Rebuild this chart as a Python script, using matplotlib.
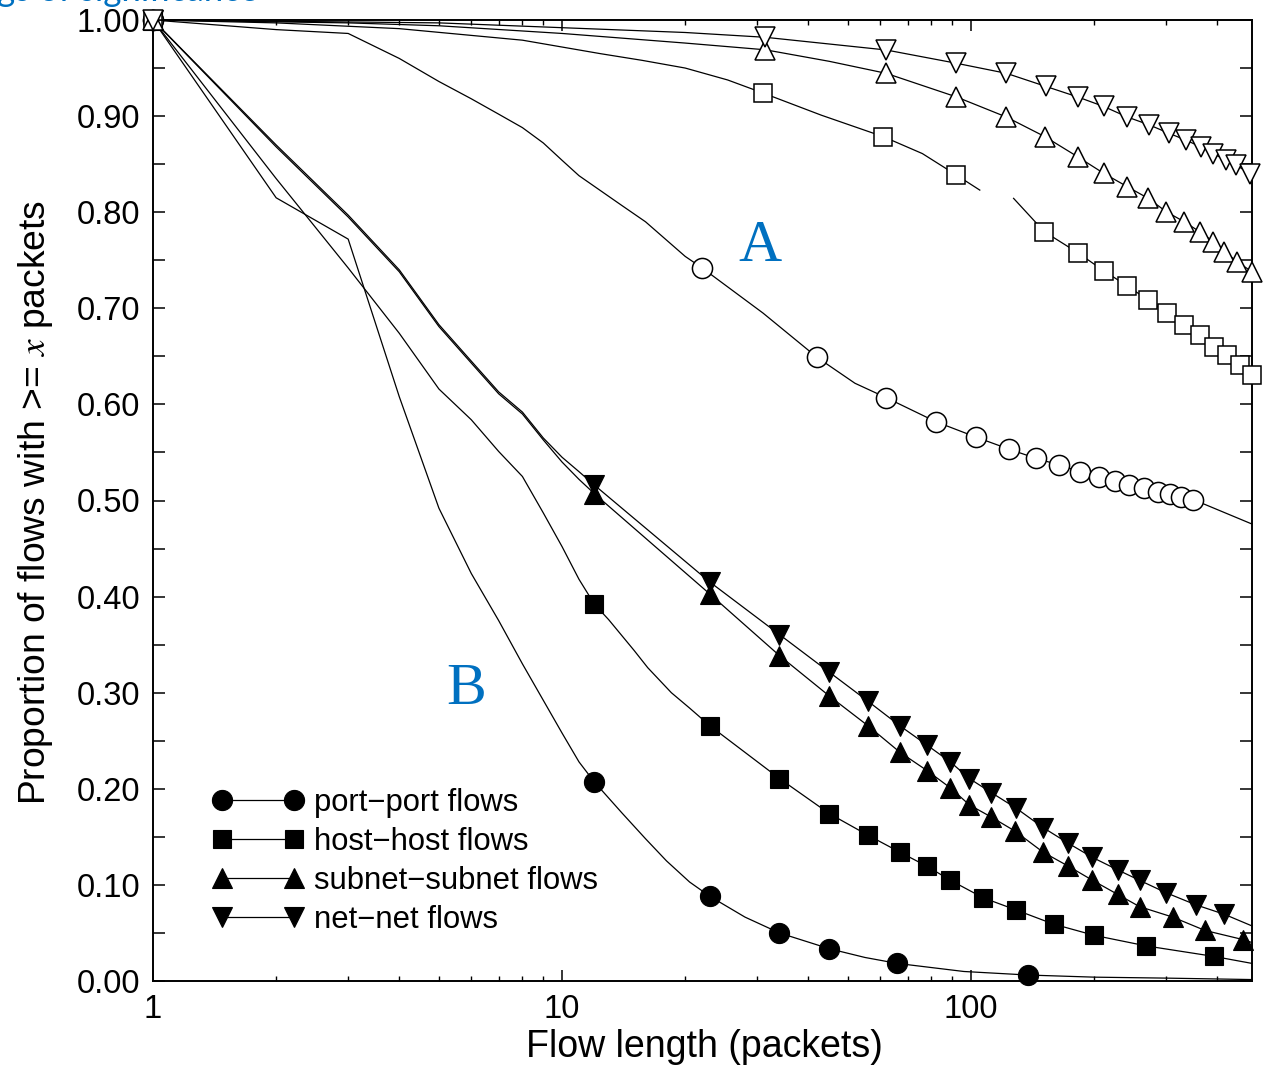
import numpy as np
import matplotlib
matplotlib.use("Agg")
import matplotlib.pyplot as plt
from matplotlib.ticker import FixedLocator, NullFormatter, FixedFormatter, MultipleLocator, FuncFormatter

plt.rcParams['font.family'] = ['Liberation Sans', 'DejaVu Sans']
plt.rcParams['mathtext.fontset'] = 'stix'

# ---------------- data ----------------
# Group B (filled markers)
pp_b_x = [1, 2, 3, 4, 5, 6, 7, 8, 9, 10, 11, 12, 14, 16, 18, 20.5, 23, 28, 34, 45, 55, 66, 96, 138, 200, 300, 486]
pp_b_y = [1.0, 0.815, 0.772, 0.608, 0.492, 0.424, 0.375, 0.330, 0.292, 0.258, 0.228, 0.207,
          0.175, 0.148, 0.125, 0.103, 0.088, 0.0665, 0.050, 0.0336, 0.0245, 0.0183, 0.0099, 0.0062,
          0.004, 0.003, 0.0015]
pp_b_marks = [1, 12, 23, 34, 45, 66, 138]

hh_b_x = [1, 2, 3, 4, 5, 6, 7, 8, 9, 10, 11, 12, 13, 15, 16.2, 18.5, 20.5, 23, 34, 45, 56, 67, 78, 89,
          107, 129, 159, 200, 268, 392, 486]
hh_b_y = [1.0, 0.835, 0.742, 0.674, 0.616, 0.584, 0.551, 0.525, 0.487, 0.452, 0.418, 0.392,
          0.376, 0.344, 0.326, 0.300, 0.284, 0.2655, 0.2107, 0.1742, 0.1516, 0.134, 0.1194, 0.1048,
          0.0866, 0.0738, 0.0592, 0.0475, 0.0365, 0.0256, 0.0183]
hh_b_marks = [1, 12, 23, 34, 45, 56, 67, 78, 89, 107, 129, 159, 200, 268, 392]

sn_b_x = [1, 2, 3, 4, 5, 6, 7, 8, 9, 10, 11, 12, 23, 34, 45, 56, 67, 78, 89, 99, 112, 128, 150,
          173, 198, 228, 258, 311, 373, 463, 486]
sn_b_y = [1.0, 0.868, 0.795, 0.738, 0.681, 0.643, 0.611, 0.590, 0.563, 0.540, 0.522, 0.507,
          0.4025, 0.3386, 0.2966, 0.2655, 0.238, 0.219, 0.2009, 0.1833, 0.1706, 0.156, 0.134,
          0.1194, 0.1048, 0.0902, 0.0774, 0.0665, 0.0526, 0.043, 0.040]
sn_b_marks = [1, 12, 23, 34, 45, 56, 67, 78, 89, 99, 112, 128, 150, 173, 198, 228, 258, 311, 373, 463]

nn_b_x = [1, 2, 3, 4, 5, 6, 7, 8, 9, 10, 11, 12, 23, 34, 45, 56, 67, 78, 89, 99, 112, 129, 150,
          173, 198, 228, 258, 299, 354, 416, 486]
nn_b_y = [1.0, 0.870, 0.797, 0.740, 0.683, 0.645, 0.613, 0.592, 0.565, 0.545, 0.530, 0.516,
          0.415, 0.3605, 0.3214, 0.291, 0.2655, 0.2455, 0.2279, 0.2107, 0.1961, 0.1797, 0.1596,
          0.1432, 0.1286, 0.1157, 0.1048, 0.092, 0.0793, 0.0694, 0.0573]
nn_b_marks = [1, 12, 23, 34, 45, 56, 67, 78, 89, 99, 112, 129, 150, 173, 198, 228, 258, 299, 354, 416]

# Group A (hollow markers)
pp_a_x = [1, 2, 3, 4, 5, 6, 7, 8, 9, 10, 11, 14, 16, 20, 22, 31, 42, 52, 62, 82, 103, 124, 144, 164,
          185, 205, 225, 243, 265, 286, 306, 326, 349, 486]
pp_a_y = [1.0, 0.990, 0.986, 0.960, 0.936, 0.918, 0.902, 0.888, 0.872, 0.854, 0.838, 0.807, 0.790,
          0.754, 0.742, 0.695, 0.649, 0.622, 0.607, 0.582, 0.5658, 0.5533, 0.5439, 0.537, 0.530,
          0.5248, 0.5206, 0.516, 0.5126, 0.509, 0.5068, 0.504, 0.501, 0.4755]
pp_a_marks = [1, 22, 42, 62, 82, 103, 124, 144, 164, 185, 205, 225, 243, 265, 286, 306, 326, 349]

hh_a_x = [1, 2, 4, 8, 12.4, 15.7, 20, 25.4, 31, 43, 61, 76, 92, 105, 121, 127, 151, 182, 211, 241,
          271, 301, 331, 362, 392, 423, 454, 486]
hh_a_y = [1.0, 0.997, 0.991, 0.979, 0.965, 0.958, 0.950, 0.9376, 0.924, 0.901, 0.8786, 0.861,
          0.8387, 0.823, np.nan, 0.8144, 0.7797, 0.758, 0.739, 0.7232, 0.7086, 0.6947, 0.6826,
          0.6722, 0.660, 0.6514, 0.641, 0.6306]
hh_a_marks = [1, 31, 61, 92, 151, 182, 211, 241, 271, 301, 331, 362, 392, 423, 454, 486]

sn_a_x = [1, 3, 5, 10, 20, 31.4, 45, 62, 92, 122, 151.5, 182, 211, 241, 271, 300, 332, 362, 391,
          416, 447, 486]
sn_a_y = [1.0, 0.997, 0.994, 0.986, 0.976, 0.969, 0.957, 0.9445, 0.920, 0.899, 0.8786, 0.8578,
          0.8404, 0.8265, 0.8144, 0.8005, 0.790, 0.7797, 0.7693, 0.759, 0.7485, 0.738]
sn_a_marks = [1, 31.4, 62, 92, 122, 151.5, 182, 211, 241, 271, 300, 332, 362, 391, 416, 447, 486]

nn_a_x = [1, 5, 10, 20, 31.4, 62, 92, 122, 152, 182, 211, 241, 272, 305, 335, 364, 391, 419, 445,
          480, 486]
nn_a_y = [1.0, 0.997, 0.992, 0.987, 0.982, 0.9688, 0.955, 0.9445, 0.931, 0.920, 0.910, 0.899,
          0.891, 0.882, 0.875, 0.868, 0.861, 0.854, 0.849, 0.840, 0.838]
nn_a_marks = [1, 31.4, 62, 92, 122, 152, 182, 211, 241, 272, 305, 335, 364, 391, 419, 445, 480]

legend_labels = ['port\u2212port flows', 'host\u2212host flows', 'subnet\u2212subnet flows', 'net\u2212net flows']
y_tick_vals = [0.0, 0.1, 0.2, 0.3, 0.4, 0.5, 0.6, 0.7, 0.8, 0.9, 1.0]
x_tick_vals = [1, 10, 100]
x_tick_labels = ['1', '10', '100']
x_minor_vals = [2, 3, 4, 5, 6, 7, 8, 9, 20, 30, 40, 50, 60, 70, 80, 90, 200, 300, 400]

# ---------------- figure ----------------
W, H = 1266, 1069
fig = plt.figure(figsize=(W / 100, H / 100), dpi=100)
L, R, T, B = 153, 1252, 20, 981
ax = fig.add_axes([L / W, 1 - B / H, (R - L) / W, (B - T) / H])


def marks_idx(xs, mx):
    s = set(mx)
    return [i for i, v in enumerate(xs) if v in s]


lw = 0.9
handles = []
for xs, ys, mk, m, ms in [(pp_b_x, pp_b_y, pp_b_marks, 'o', 14.5),
                          (hh_b_x, hh_b_y, hh_b_marks, 's', 13.5),
                          (sn_b_x, sn_b_y, sn_b_marks, '^', 14.5),
                          (nn_b_x, nn_b_y, nn_b_marks, 'v', 14.5)]:
    h, = ax.plot(xs, ys, color='black', lw=lw, marker=m, ms=ms, mfc='black', mec='black',
                 mew=0.8, markevery=marks_idx(xs, mk), clip_on=False, zorder=3)
    handles.append(h)

for xs, ys, mk, m, ms in [(pp_a_x, pp_a_y, pp_a_marks, 'o', 14.5),
                          (hh_a_x, hh_a_y, hh_a_marks, 's', 13),
                          (sn_a_x, sn_a_y, sn_a_marks, '^', 14),
                          (nn_a_x, nn_a_y, nn_a_marks, 'v', 14)]:
    ax.plot(xs, ys, color='black', lw=lw, marker=m, ms=ms, mfc='white', mec='black',
            mew=1.1, markevery=marks_idx(xs, mk), clip_on=False, zorder=4)

ax.set_xscale('log')
ax.set_xlim(1, 486)
ax.set_ylim(0, 1)

ax.xaxis.set_major_locator(FixedLocator(x_tick_vals))
ax.xaxis.set_major_formatter(FixedFormatter(x_tick_labels))
ax.xaxis.set_minor_locator(FixedLocator(x_minor_vals))
ax.xaxis.set_minor_formatter(NullFormatter())
ax.yaxis.set_major_locator(FixedLocator(y_tick_vals))
ax.yaxis.set_major_formatter(FuncFormatter(lambda v, p: f"{v:.2f}"))
ax.yaxis.set_minor_locator(MultipleLocator(0.05))

for s in ax.spines.values():
    s.set_linewidth(1.4)

ax.tick_params(axis='x', which='major', direction='in', length=8, width=1.1, top=True,
               labelsize=23.5, pad=9)
ax.tick_params(axis='x', which='minor', direction='in', length=3.8, width=1.0, top=True)
ax.tick_params(axis='y', which='both', direction='in', length=8.5, width=1.1, right=True)
ax.tick_params(axis='y', which='major', labelsize=23.5, pad=9)

ax.set_xlabel('Flow length (packets)', fontsize=27)
ax.xaxis.set_label_coords(0.502, -0.050)
ax.set_ylabel(r'Proportion of flows with >= $x$ packets', fontsize=26.8)
ax.yaxis.set_label_coords(-0.0895, 0.498)

leg = ax.legend(handles, legend_labels, loc='upper left', bbox_to_anchor=(0.054, 0.201),
                frameon=False, fontsize=22.3, numpoints=2, handlelength=2.95,
                handletextpad=0.33, labelspacing=0.29, borderaxespad=0, borderpad=0)

blue = '#0070C0'
ax.text(0.5523, 0.764, 'A', transform=ax.transAxes, color=blue, fontsize=43,
        family='Liberation Serif', ha='center', va='center')
ax.text(0.2848, 0.303, 'B', transform=ax.transAxes, color=blue, fontsize=43,
        family='Liberation Serif', ha='center', va='center')

fig.text(-0.002, 1 - 1 / H, 'gs of significance', color=blue, fontsize=25,
         family='Lato', ha='left', va='baseline')

fig.savefig('out.png', dpi=100)
